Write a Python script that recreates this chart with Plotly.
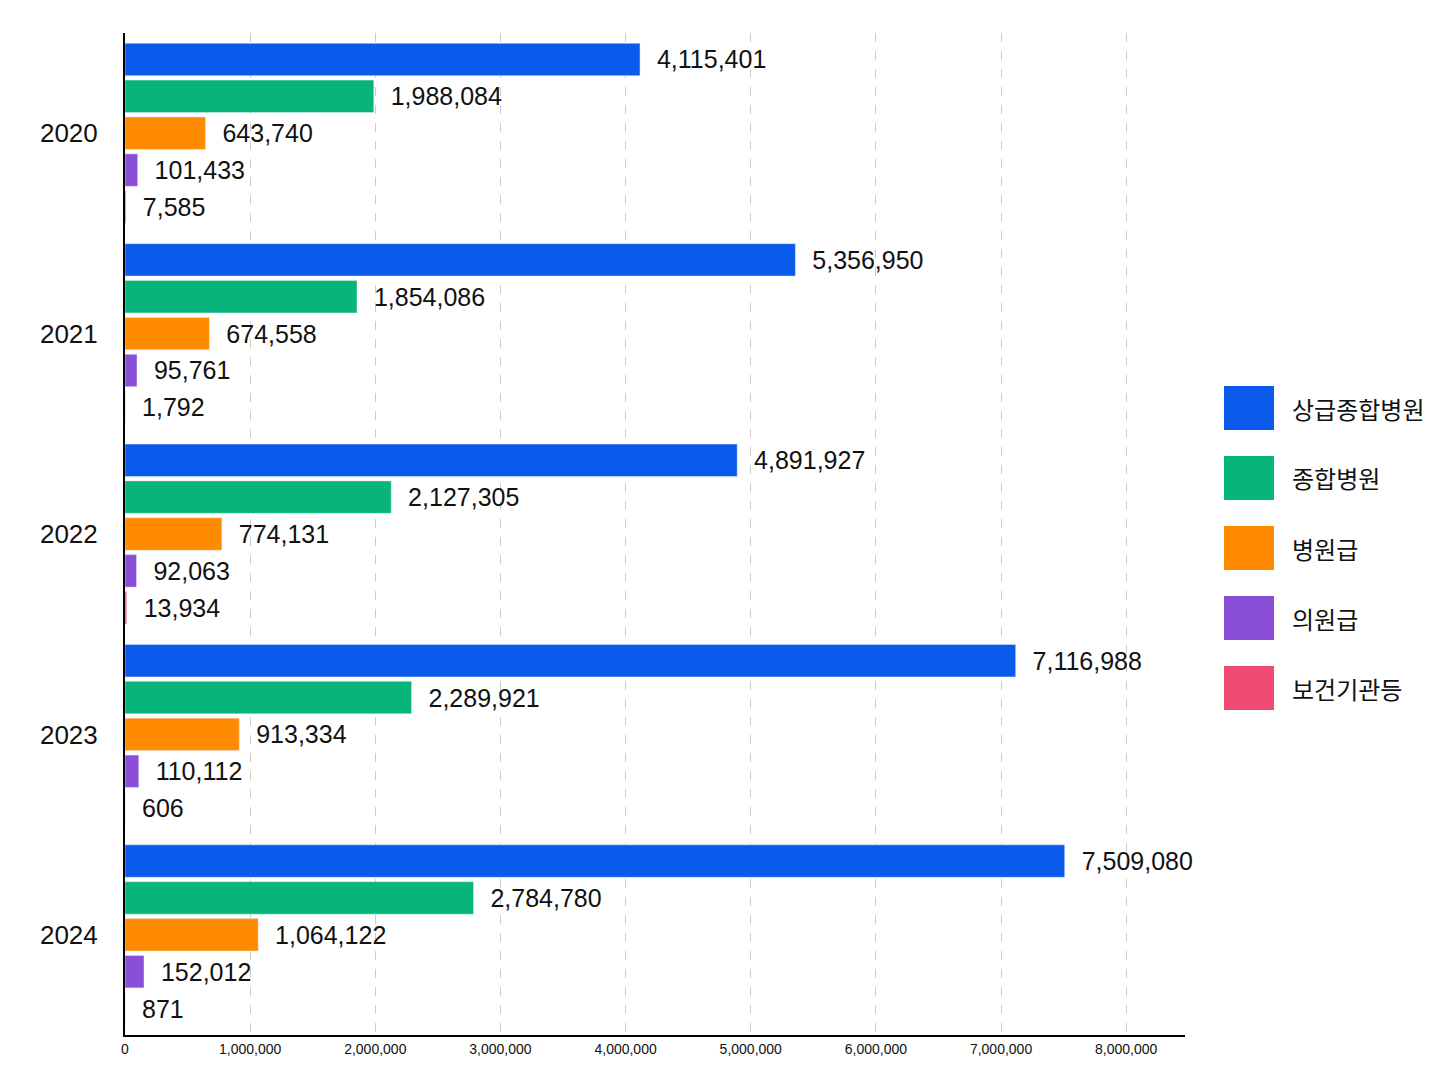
import plotly.graph_objects as go

years = ["2020", "2021", "2022", "2023", "2024"]
series_names = ["상급종합병원", "종합병원", "병원급", "의원급", "보건기관등"]
v_sang = [4115401, 5356950, 4891927, 7116988, 7509080]
v_jong = [1988084, 1854086, 2127305, 2289921, 2784780]
v_byeong = [643740, 674558, 774131, 913334, 1064122]
v_ui = [101433, 95761, 92063, 110112, 152012]
v_bo = [7585, 1792, 13934, 606, 871]
colors = ["#0A5BEB", "#07B57B", "#FF8A00", "#8A4FD6", "#F04B72"]
tick_vals = [0, 1000000, 2000000, 3000000, 4000000, 5000000, 6000000, 7000000, 8000000]

fig = go.Figure()
for name, vals, c in zip(series_names, [v_sang, v_jong, v_byeong, v_ui, v_bo], colors):
    fig.add_trace(go.Bar(
        y=years, x=vals, name=name, orientation="h", marker_color=c,
        text=[f"  {v:,}" for v in vals], textposition="outside", cliponaxis=False,
        textfont=dict(size=25, color="#111", family="Liberation Sans, Noto Sans CJK KR"),
        showlegend=False,
    ))

# manual legend with large swatches (paper coordinates)
for i, (name, c) in enumerate(zip(series_names, colors)):
    ytop = 1 - (378 - 25 + i * 70) / 1002
    fig.add_shape(type="rect", xref="paper", yref="paper",
                  x0=(1216 - 117) / 1060, x1=(1266 - 117) / 1060,
                  y0=ytop - 44 / 1002, y1=ytop, fillcolor=c, line_width=0)
    fig.add_annotation(xref="paper", yref="paper", x=(1282 - 117) / 1060,
                       y=ytop - 22 / 1002, text=name, showarrow=False,
                       xanchor="left", yanchor="middle",
                       font=dict(size=24, color="#111", family="Noto Sans CJK KR"))

fig.update_layout(
    width=1448, height=1086, barmode="group", bargap=0.08, bargroupgap=0.12,
    plot_bgcolor="white", paper_bgcolor="white",
    margin=dict(l=117, r=271, t=25, b=59, autoexpand=False),
    font=dict(family="Noto Sans CJK KR", color="#111"),
    showlegend=False,
)
fig.update_xaxes(range=[0, 8470000], tickvals=tick_vals,
                 ticktext=[f"{t:,}" for t in tick_vals],
                 tickfont=dict(size=14, family="Liberation Sans, Noto Sans"),
                 showgrid=True, gridcolor="#cccccc", griddash="dash",
                 showline=True, linecolor="black", linewidth=2, zeroline=False,
                 automargin=False)
fig.update_yaxes(autorange="reversed", showline=True, linecolor="black", linewidth=2,
                 tickfont=dict(size=26, family="Liberation Sans, Noto Sans"),
                 ticks="", ticklabelstandoff=20, automargin=False)
fig.write_html("out.html")
